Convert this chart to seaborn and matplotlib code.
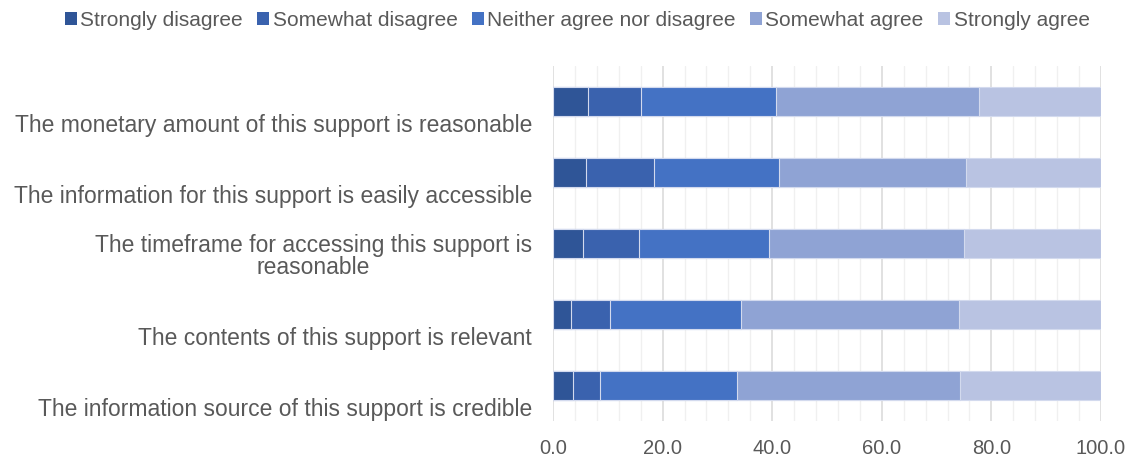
import matplotlib
matplotlib.use("Agg")
import matplotlib.pyplot as plt
from matplotlib.ticker import MultipleLocator
from matplotlib.patches import Patch
import seaborn as sns
import pandas as pd
import numpy as np

statements = [
    "The monetary amount of this support is reasonable",
    "The information for this support is easily accessible",
    "The timeframe for accessing this support is\nreasonable",
    "The contents of this support is relevant",
    "The information source of this support is credible",
]
levels = ["Strongly disagree", "Somewhat disagree", "Neither agree nor disagree",
          "Somewhat agree", "Strongly agree"]
strongly_disagree = [6.3, 6.0, 5.4, 3.3, 3.7]
somewhat_disagree = [9.7, 12.4, 10.3, 7.1, 4.9]
neither = [24.7, 22.9, 23.7, 23.9, 25.0]
somewhat_agree = [37.1, 34.0, 35.6, 39.8, 40.7]
strongly_agree = [22.2, 24.7, 25.0, 25.9, 25.7]
colors = ["#2F5597", "#3A62AE", "#4472C4", "#8FA3D4", "#B9C3E2"]
xticks = [0, 20, 40, 60, 80, 100]

sns.set_theme(style="white")
plt.rcParams["font.family"] = ["Liberation Sans", "DejaVu Sans"]
text_color = "#595959"

df = pd.DataFrame({"statement": statements,
                   levels[0]: strongly_disagree,
                   levels[1]: somewhat_disagree,
                   levels[2]: neither,
                   levels[3]: somewhat_agree,
                   levels[4]: strongly_agree})
cum = df[levels].cumsum(axis=1)
cum["statement"] = df["statement"]

fig = plt.figure(figsize=(11.34, 4.56), dpi=100)
ax = fig.add_axes([553 / 1134, 1 - 422 / 456, 548 / 1134, 355 / 456])

# Stacked bars: draw cumulative totals from the widest down so each segment shows
for lvl, col in reversed(list(zip(levels, colors))):
    sns.barplot(data=cum, x=lvl, y="statement", orient="h", color=col,
                width=0.4, edgecolor="#D3DAEE", linewidth=0.8, ax=ax,
                saturation=1, zorder=3)

ax.set_xlim(0, 100)
ax.set_ylim(4.5, -0.5)
ax.xaxis.set_major_locator(MultipleLocator(20))
ax.xaxis.set_minor_locator(MultipleLocator(4))
ax.grid(axis="x", which="major", color="#D9D9D9", linewidth=1.1, zorder=0)
ax.grid(axis="x", which="minor", color="#F0F0F0", linewidth=1.0, zorder=0)
ax.set_xticks(xticks)
ax.set_xticklabels([f"{v:.1f}" for v in xticks])
ax.tick_params(axis="x", which="both", length=0, pad=12, labelsize=14.5,
               labelcolor=text_color)
ax.set_yticks([])
ax.set_xlabel("")
ax.set_ylabel("")
for s in ax.spines.values():
    s.set_visible(False)

# Category labels sit low in each slot, right-aligned against the plot
ytrans = ax.get_yaxis_transform()
for i, label in enumerate(statements):
    ax.text(-21 / 548, i + 0.41, label, transform=ytrans, ha="right",
            va="baseline", multialignment="center", fontsize=16.5,
            linespacing=0.95, color=text_color)

handles = [Patch(facecolor=c, edgecolor="none") for c in colors]
fig.legend(handles, levels, loc="center", bbox_to_anchor=(0.509, 1 - 21 / 456),
           ncol=5, frameon=False, fontsize=15, handlelength=0.58,
           handleheight=0.58, handletextpad=0.15, columnspacing=0.7,
           labelcolor=text_color, borderpad=0)

fig.savefig("out.png", dpi=100, facecolor="white")
